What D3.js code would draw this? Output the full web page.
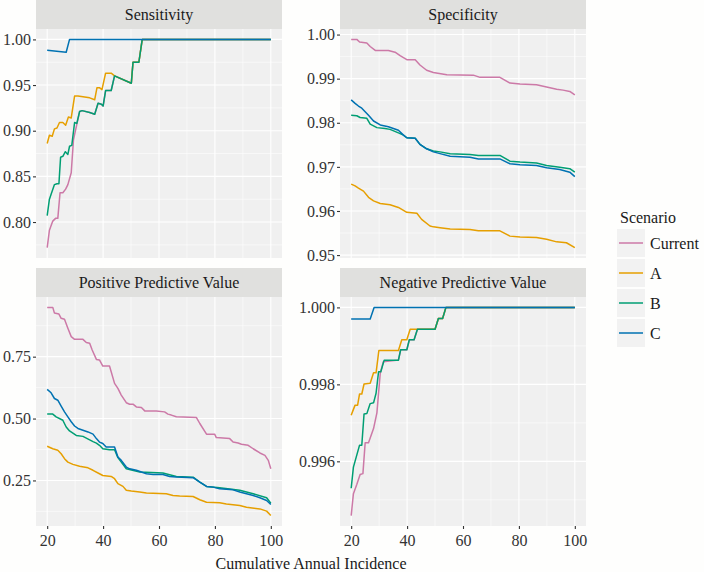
<!DOCTYPE html>
<html><head><meta charset="utf-8">
<script src="https://cdn.jsdelivr.net/npm/d3@7"></script>
</head>
<body style="margin:0;background:#fefefd">
<svg id="c" width="704" height="572" style="display:block"></svg>
<script>
// ---------------- DATA ----------------
const scenarios = ["Current","A","B","C"];
const colors = ["#CC79A7","#E69F00","#009E73","#0072B2"];
const xTicks = [20,40,60,80,100];
const xMinor = [30,50,70,90];
const xTitle = "Cumulative Annual Incidence";
const panelTitles = ["Sensitivity","Specificity","Positive Predictive Value","Negative Predictive Value"];

const sensTicks = [0.80,0.85,0.90,0.95,1.00];
const specTicks = [0.95,0.96,0.97,0.98,0.99,1.00];
const ppvTicks = [0.25,0.50,0.75];
const npvTicks = [0.996,0.998,1.000];

const sensCurrent = [[20,0.772],[20.8,0.791],[22,0.801],[23,0.804],[23.8,0.804],[24.6,0.832],[25.6,0.832],[26.6,0.836],[27.4,0.841],[28.6,0.854],[29.4,0.890],[30.6,0.907],[31.6,0.921],[32.5,0.922],[35.2,0.920],[37,0.918],[38.2,0.930],[39.4,0.929],[40,0.927],[40.9,0.944],[42.9,0.944],[44.1,0.960],[50.1,0.952],[50.7,0.975],[52.8,0.975],[54,1],[100,1]];
const sensA = [[20,0.886],[20.8,0.895],[21.8,0.894],[22.6,0.902],[23.5,0.903],[24.4,0.909],[25.6,0.909],[26.6,0.906],[27.6,0.915],[28.6,0.914],[29.8,0.938],[31,0.938],[35.2,0.936],[37,0.934],[37.8,0.947],[38.8,0.947],[39.6,0.945],[40.9,0.963],[42.9,0.963],[44.1,0.960],[50.1,0.952],[50.7,0.975],[52.8,0.975],[54,1],[100,1]];
const sensB = [[20,0.807],[20.8,0.825],[21.8,0.834],[22.6,0.841],[23.5,0.842],[24.2,0.842],[24.8,0.871],[25.6,0.872],[26.5,0.877],[27.4,0.874],[28,0.883],[28.8,0.884],[29.8,0.909],[30.6,0.908],[31.6,0.921],[32.5,0.922],[35.2,0.920],[37,0.918],[38.2,0.930],[39.4,0.929],[40,0.927],[40.9,0.944],[42.9,0.944],[44.1,0.960],[50.1,0.952],[50.7,0.975],[52.8,0.975],[54,1],[100,1]];
const sensC = [[20,0.988],[26.8,0.986],[28,1],[100,1]];

const specCurrent = [[20,0.9989],[22,0.9989],[23,0.9983],[25.6,0.9981],[26.8,0.9973],[28.6,0.9964],[33.3,0.9964],[35.7,0.9960],[37.5,0.9952],[39.9,0.9943],[42.9,0.9943],[44.6,0.9931],[47,0.9919],[49.4,0.9914],[54.2,0.9909],[63.7,0.9908],[66.1,0.9903],[73.2,0.9903],[76.8,0.9890],[80.4,0.9888],[86.3,0.9886],[89.9,0.9881],[93.5,0.9876],[95.8,0.9874],[98.2,0.9871],[100,0.9863]];
const specA = [[20,0.9661],[21.4,0.9657],[22.6,0.9652],[24.4,0.9645],[26.2,0.9631],[28,0.9623],[30.4,0.9617],[33.9,0.9614],[36.9,0.9608],[39.9,0.9597],[43.5,0.9595],[45.2,0.9581],[48.2,0.9566],[49.4,0.9564],[51.8,0.9562],[55.4,0.9559],[62.5,0.9558],[65.5,0.9555],[73.2,0.9555],[76.8,0.9543],[80.4,0.9541],[86.3,0.9540],[89.9,0.9536],[93.5,0.9530],[97,0.9528],[100,0.9517]];
const specB = [[20,0.9817],[22,0.9816],[23.2,0.9812],[25.6,0.9810],[26.8,0.9797],[29.2,0.9789],[32.1,0.9787],[33.9,0.9785],[36.9,0.9777],[38.7,0.9772],[39.9,0.9766],[42.9,0.9765],[44.6,0.9751],[47,0.9741],[49.4,0.9736],[51.8,0.9734],[55.4,0.9730],[62.5,0.9728],[65.5,0.9726],[73.2,0.9726],[76.8,0.9713],[80.4,0.9711],[86.3,0.9709],[89.9,0.9703],[94.6,0.9699],[98.2,0.9696],[100,0.9688]];
const specC = [[20,0.9852],[21.4,0.9844],[22.6,0.9838],[23.8,0.9833],[25,0.9825],[26.2,0.9817],[28,0.9804],[30.4,0.9795],[33.3,0.9791],[35.1,0.9787],[36.9,0.9783],[38.7,0.9772],[39.9,0.9766],[42.9,0.9765],[44.6,0.9751],[47,0.9741],[49.4,0.9734],[51.8,0.9730],[55.4,0.9724],[62.5,0.9722],[65.5,0.9718],[73.2,0.9718],[76.8,0.9707],[80.4,0.9705],[86.3,0.9703],[89.9,0.9698],[94.6,0.9694],[98.2,0.9688],[100,0.9678]];

const ppvCurrent = [[20,0.949],[22,0.949],[22.6,0.926],[24.2,0.922],[25,0.905],[26.2,0.901],[27.4,0.865],[28.6,0.831],[29.8,0.820],[32.8,0.820],[34,0.807],[35.2,0.804],[36.1,0.777],[37.6,0.739],[38.7,0.737],[39.9,0.712],[42.3,0.712],[44.1,0.642],[45.3,0.622],[46.5,0.595],[48.3,0.564],[49.5,0.558],[50.7,0.558],[51.9,0.547],[53.7,0.545],[54.9,0.531],[59,0.531],[62,0.527],[63.2,0.518],[64.4,0.514],[66.2,0.507],[73.4,0.504],[74.6,0.480],[77,0.437],[79.9,0.437],[80.5,0.423],[85.3,0.419],[86.5,0.405],[88.3,0.401],[89.5,0.396],[91.9,0.392],[93.7,0.378],[96.1,0.361],[97.9,0.351],[99.1,0.331],[100,0.297]];
const ppvA = [[20,0.388],[22,0.378],[23.8,0.372],[25,0.358],[26.2,0.338],[27.4,0.324],[29.2,0.315],[31.6,0.307],[34.6,0.301],[36.4,0.291],[38.7,0.277],[39.9,0.270],[42.9,0.266],[44.1,0.257],[45.3,0.237],[47.1,0.226],[48.3,0.210],[50.1,0.207],[53.1,0.203],[55.5,0.199],[62.6,0.196],[65,0.189],[67.4,0.187],[72.2,0.185],[74.6,0.172],[77,0.162],[81.7,0.160],[84.1,0.155],[88.9,0.149],[91.3,0.142],[96.1,0.135],[98.5,0.126],[100,0.108]];
const ppvB = [[20,0.518],[22,0.518],[23.2,0.507],[25.6,0.493],[26.8,0.466],[28,0.450],[30.4,0.432],[32.8,0.428],[35.2,0.414],[36.4,0.407],[37.6,0.401],[38.7,0.392],[39.9,0.378],[42.3,0.374],[44.1,0.374],[45.3,0.342],[48.3,0.297],[53.1,0.284],[61.4,0.280],[66.2,0.266],[72.2,0.263],[74.6,0.243],[77,0.226],[81.7,0.220],[88.9,0.210],[93.7,0.196],[98.5,0.180],[100,0.158]];
const ppvC = [[20,0.618],[21.4,0.604],[22.6,0.581],[23.8,0.574],[25,0.550],[26.2,0.527],[27.4,0.507],[28.6,0.487],[29.8,0.470],[31,0.460],[32.8,0.453],[34.6,0.446],[36.4,0.437],[37.6,0.419],[38.7,0.405],[39.9,0.399],[41.1,0.385],[44.1,0.385],[45.3,0.345],[46.5,0.331],[48.3,0.304],[49.5,0.297],[51.9,0.291],[53.7,0.284],[55.5,0.277],[57.9,0.274],[61.4,0.274],[63.8,0.266],[66.2,0.264],[72.2,0.261],[74.6,0.243],[77,0.226],[79.4,0.223],[81.7,0.216],[86.5,0.212],[88.9,0.203],[91.3,0.196],[93.7,0.189],[96.1,0.180],[98.5,0.169],[100,0.153]];

const npvCurrent = [[20,0.99459],[20.8,0.99516],[22,0.99540],[23.2,0.99566],[24.2,0.99568],[25,0.99648],[26.2,0.99648],[28,0.99685],[29.2,0.99726],[30.4,0.99829],[31.5,0.99859],[36.9,0.99863],[37.7,0.99890],[39.9,0.99890],[40.8,0.99916],[42.5,0.99916],[43.7,0.99943],[50,0.99943],[51.2,0.99971],[52.7,0.99971],[53.9,1],[100,1]];
const npvA = [[20,0.99720],[20.8,0.99735],[21.4,0.99746],[22.3,0.99746],[23,0.99775],[23.8,0.99775],[24.6,0.99801],[26.8,0.99803],[28,0.99830],[28.9,0.99830],[29.9,0.99888],[36.9,0.99888],[38.1,0.99916],[39.9,0.99916],[41.1,0.99943],[43.7,0.99943],[50,0.99943],[51.2,0.99971],[52.7,0.99971],[53.9,1],[100,1]];
const npvB = [[20,0.99530],[20.8,0.99585],[21.8,0.99611],[23,0.99642],[23.8,0.99642],[24.6,0.99723],[25.6,0.99724],[26.8,0.99750],[28,0.99752],[28.9,0.99777],[29.8,0.99833],[30.6,0.99833],[31.8,0.99863],[36.9,0.99863],[37.7,0.99890],[39.9,0.99890],[40.8,0.99916],[42.5,0.99916],[43.7,0.99943],[50,0.99943],[51.2,0.99971],[52.7,0.99971],[53.9,1],[100,1]];
const npvC = [[20,0.99970],[26.8,0.99970],[28.2,1],[100,1]];

// ---------------- LAYOUT ----------------
const svg = d3.select("#c");
const fontSize = 16;
const FF = "'Liberation Serif'";
const panels = [
  {title:panelTitles[0], series:[sensCurrent,sensA,sensB,sensC], ticks:sensTicks, fmt:".2f", x0:36, y0:29, showX:false},
  {title:panelTitles[1], series:[specCurrent,specA,specB,specC], ticks:specTicks, fmt:".2f", x0:340, y0:29, showX:false},
  {title:panelTitles[2], series:[ppvCurrent,ppvA,ppvB,ppvC], ticks:ppvTicks, fmt:".2f", x0:36, y0:297, showX:true},
  {title:panelTitles[3], series:[npvCurrent,npvA,npvB,npvC], ticks:npvTicks, fmt:".3f", x0:340, y0:297, showX:true}
];
const pw = 246, ph = 229, stripH = 29;

function expand(ext){ const d=(ext[1]-ext[0])*0.05; return [ext[0]-d, ext[1]+d]; }

panels.forEach(p=>{
  const g = svg.append("g").attr("transform",`translate(${p.x0},${p.y0})`);
  const all = p.series.flat();
  const x = d3.scaleLinear().domain(expand([20,100])).range([0,pw]);
  const y = d3.scaleLinear().domain(expand(d3.extent(all,d=>d[1]))).range([ph,0]);

  svg.append("rect").attr("x",p.x0).attr("y",p.y0-stripH).attr("width",pw).attr("height",stripH).attr("fill","#e0e0de");
  svg.append("text").attr("x",p.x0+pw/2).attr("y",p.y0-stripH/2).attr("dy","0.35em")
     .attr("text-anchor","middle").attr("font-family",FF).attr("font-size",fontSize).attr("fill","#1a1a1a").text(p.title);

  g.append("rect").attr("width",pw).attr("height",ph).attr("fill","#f0f0f0");

  const step = p.ticks[1]-p.ticks[0];
  const ydom = y.domain();
  const yMinor = [];
  for(let v=p.ticks[0]-step/2; v<=ydom[1]; v+=step){ if(v>=ydom[0]) yMinor.push(v); }
  g.selectAll(".ymin").data(yMinor).join("line").attr("x1",0).attr("x2",pw)
    .attr("y1",d=>y(d)).attr("y2",d=>y(d)).attr("stroke","#fff").attr("stroke-width",0.55);
  g.selectAll(".xmin").data(xMinor).join("line").attr("y1",0).attr("y2",ph)
    .attr("x1",d=>x(d)).attr("x2",d=>x(d)).attr("stroke","#fff").attr("stroke-width",0.55);
  const yMaj = p.ticks.filter(v=>v>=ydom[0]&&v<=ydom[1]);
  g.selectAll(".ymaj").data(yMaj).join("line").attr("x1",0).attr("x2",pw)
    .attr("y1",d=>y(d)).attr("y2",d=>y(d)).attr("stroke","#fff").attr("stroke-width",1.1);
  g.selectAll(".xmaj").data(xTicks).join("line").attr("y1",0).attr("y2",ph)
    .attr("x1",d=>x(d)).attr("x2",d=>x(d)).attr("stroke","#fff").attr("stroke-width",1.1);

  const line = d3.line().x(d=>x(d[0])).y(d=>y(d[1]));
  p.series.forEach((s,i)=>{
    g.append("path").datum(s).attr("d",line).attr("fill","none")
      .attr("stroke",colors[i]).attr("stroke-width",1.5).attr("stroke-linejoin","round");
  });

  const ya = g.append("g").call(d3.axisLeft(y).tickValues(yMaj).tickFormat(d3.format(p.fmt)).tickSize(3).tickPadding(2));
  ya.attr("font-family",FF).attr("font-size",fontSize);
  ya.select(".domain").remove();
  ya.selectAll("line").attr("stroke","#333").attr("stroke-width",1.1);
  ya.selectAll("text").attr("fill","#333").attr("font-family",FF);

  if(p.showX){
    const xa = g.append("g").attr("transform",`translate(0,${ph})`)
      .call(d3.axisBottom(x).tickValues(xTicks).tickFormat(d3.format("d")).tickSize(3).tickPadding(6));
    xa.attr("font-family",FF).attr("font-size",fontSize);
    xa.select(".domain").remove();
    xa.selectAll("line").attr("stroke","#333").attr("stroke-width",1.1);
    xa.selectAll("text").attr("fill","#333").attr("font-family",FF);
  }
});

svg.append("text").attr("x",311).attr("y",563).attr("dy","0.35em").attr("text-anchor","middle")
  .attr("font-family",FF).attr("font-size",fontSize).attr("fill","#1a1a1a").text(xTitle);

const lg = svg.append("g").attr("transform","translate(617,0)");
lg.append("text").attr("x",3).attr("y",217).attr("dy","0.35em").attr("font-family",FF).attr("font-size",fontSize).attr("fill","#1a1a1a").text("Scenario");
scenarios.forEach((s,i)=>{
  const cy = 243 + i*30;
  lg.append("rect").attr("x",0).attr("y",cy-14).attr("width",28).attr("height",28).attr("fill","#f2f2f2");
  lg.append("line").attr("x1",2).attr("x2",26).attr("y1",cy).attr("y2",cy).attr("stroke",colors[i]).attr("stroke-width",1.5);
  lg.append("text").attr("x",33).attr("y",cy).attr("dy","0.35em").attr("font-family",FF).attr("font-size",fontSize).attr("fill","#1a1a1a").text(s);
});
</script></body></html>
